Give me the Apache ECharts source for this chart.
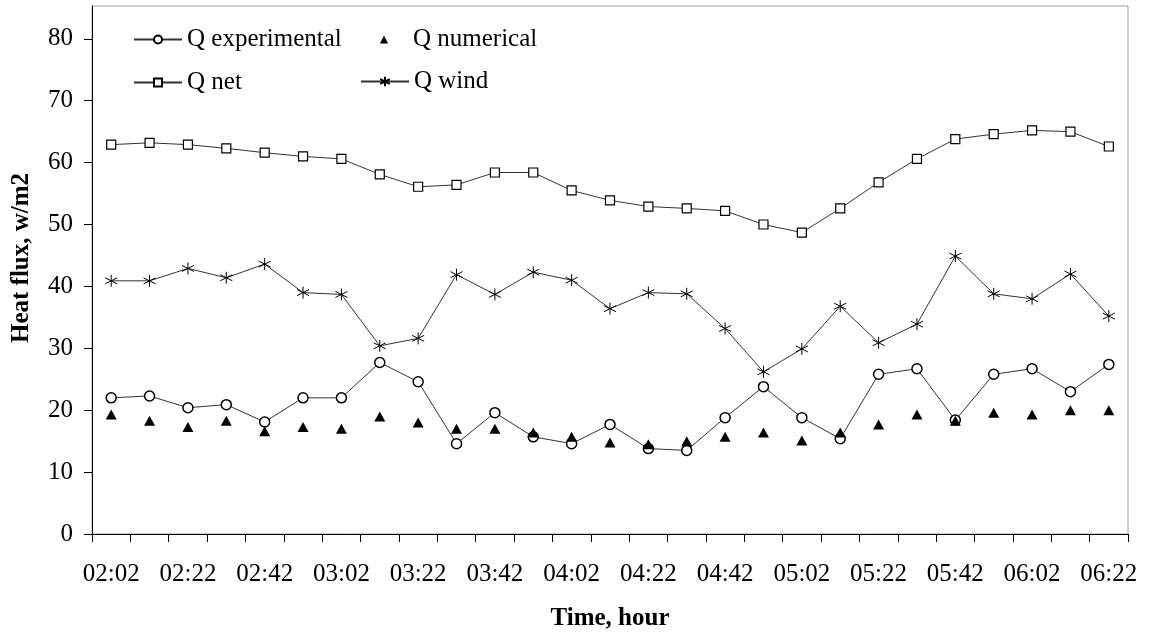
<!DOCTYPE html>
<html><head><meta charset="utf-8">
<script src="https://cdn.jsdelivr.net/npm/echarts@6/dist/echarts.min.js"></script>
<style>html,body{margin:0;padding:0;background:#fff}#c{width:1151px;height:635px}</style>
</head><body><div id="c"></div>
<script>
const categories = ['02:02','02:12','02:22','02:32','02:42','02:52','03:02','03:12','03:22','03:32','03:42','03:52','04:02','04:12','04:22','04:32','04:42','04:52','05:02','05:12','05:22','05:32','05:42','05:52','06:02','06:12','06:22'];
const qExperimental = [22.0,22.3,20.4,20.9,18.1,22.0,22.0,27.7,24.6,14.6,19.6,15.7,14.6,17.7,13.8,13.5,18.8,23.8,18.8,15.4,25.8,26.7,18.4,25.8,26.7,23.0,27.4];
const qNumerical = [19.3,18.3,17.3,18.3,16.6,17.3,17.0,19.0,18.0,17.0,17.0,16.4,15.7,14.8,14.5,15.0,15.7,16.4,15.1,16.4,17.7,19.3,18.3,19.6,19.3,20.0,20.0];
const qNet = [62.9,63.2,62.9,62.3,61.6,61.0,60.6,58.1,56.1,56.4,58.4,58.4,55.5,53.9,52.9,52.6,52.2,50.0,48.7,52.6,56.8,60.6,63.8,64.6,65.2,65.0,62.6];
const qWind = [40.9,40.9,42.9,41.4,43.6,39.0,38.7,30.4,31.6,41.9,38.7,42.3,41.0,36.4,39.0,38.8,33.2,26.2,29.9,36.8,30.9,33.9,44.9,38.8,38.0,42.0,35.2];
const yTickValues = [0,10,20,30,40,50,60,70,80];

const FONT = 'Liberation Serif';
const chart = echarts.init(document.getElementById('c'), null, {renderer:'canvas'});
const legendBase = {orient:'horizontal', itemWidth:48, itemHeight:10, itemGap:0, padding:0, selectedMode:false,
  textStyle:{fontFamily:FONT, fontSize:25, color:'#000'}};
const lineStyle = {color:'#333', width:1};
const star = 'path://M5,0L5,10M0.67,2.5L9.33,7.5M0.67,7.5L9.33,2.5';
chart.setOption({
  animation:false,
  backgroundColor:'#fff',
  textStyle:{fontFamily:FONT},
  grid:{left:92, right:23, top:6, bottom:101, outerBoundsMode:'none', containLabel:false,
        show:true, borderColor:'#a0a0a0', borderWidth:1, backgroundColor:'transparent'},
  legend:[
    Object.assign({}, legendBase, {left:133, top:27, data:['Q experimental']}),
    Object.assign({}, legendBase, {left:360, top:27, data:['Q numerical']}),
    Object.assign({}, legendBase, {left:133, top:70, data:['Q net']}),
    Object.assign({}, legendBase, {left:360, top:69, itemHeight:12, data:['Q wind']})
  ],
  xAxis:{
    type:'category', data:categories, boundaryGap:true,
    name:'Time, hour', nameLocation:'middle', nameGap:72,
    nameTextStyle:{fontFamily:FONT, fontSize:25, fontWeight:'bold', color:'#000'},
    axisLine:{show:true, lineStyle:{color:'#000', width:1}},
    axisTick:{show:true, interval:0, length:8, inside:false, alignWithLabel:false, lineStyle:{color:'#000'}},
    axisLabel:{interval:1, margin:28, fontFamily:FONT, fontSize:25, color:'#000'},
    splitLine:{show:false}
  },
  yAxis:{
    type:'value', min:0, max:85.3,
    name:'Heat flux, w/m2', nameLocation:'middle', nameRotate:90, nameGap:58,
    nameTextStyle:{fontFamily:FONT, fontSize:25, fontWeight:'bold', color:'#000', padding:[0,0,0,24]},
    axisLine:{show:true, lineStyle:{color:'#000', width:1}},
    axisTick:{show:true, length:8, inside:false, customValues:yTickValues, lineStyle:{color:'#000'}},
    axisLabel:{margin:19, fontFamily:FONT, fontSize:25, color:'#000', customValues:yTickValues},
    splitLine:{show:false}
  },
  series:[
    {name:'Q experimental', type:'line', data:qExperimental, symbol:'circle', symbolSize:10,
     itemStyle:{color:'#fff', borderColor:'#000', borderWidth:1.5}, lineStyle:lineStyle, z:4},
    {name:'Q numerical', type:'line', data:qNumerical, symbol:'triangle', symbolSize:[11,10],
     itemStyle:{color:'#000', borderColor:'#000', borderWidth:0}, lineStyle:{width:0, opacity:0}, z:5},
    {name:'Q net', type:'line', data:qNet, symbol:'rect', symbolSize:9,
     itemStyle:{color:'#fff', borderColor:'#000', borderWidth:1.2}, lineStyle:lineStyle, z:3},
    {name:'Q wind', type:'line', data:qWind, symbol:star, symbolSize:12,
     itemStyle:{color:'#000', borderColor:'#000', borderWidth:1}, lineStyle:lineStyle, z:3}
  ]
});
</script>
</body></html>
